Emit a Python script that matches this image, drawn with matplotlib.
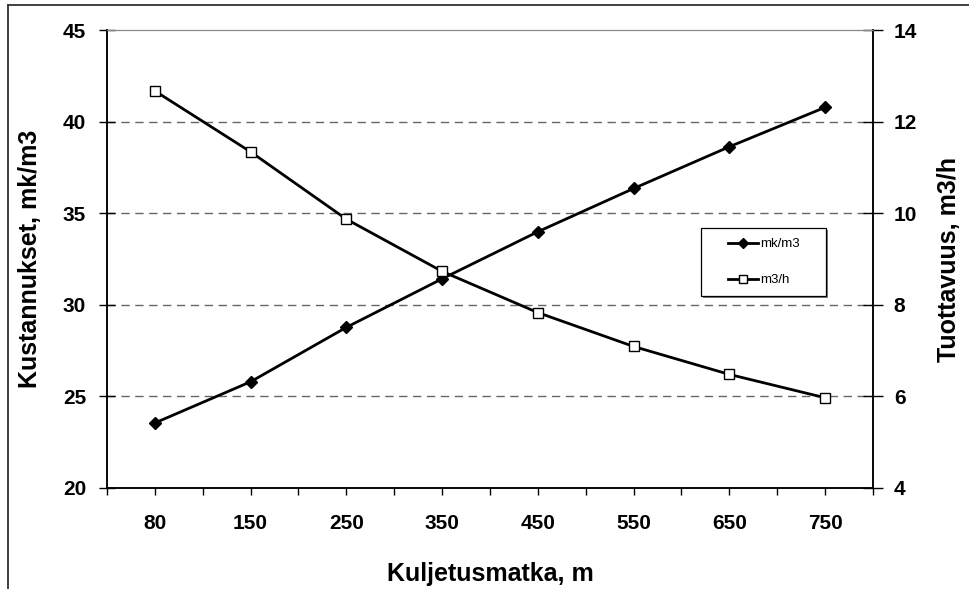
import matplotlib.pyplot as plt
import numpy as np
from matplotlib.patches import Rectangle
from matplotlib.lines import Line2D
import matplotlib.transforms as mtransforms

plt.rcParams['font.family'] = ['Liberation Sans', 'DejaVu Sans']

# kuljetusmatka (m), kustannukset (mk/m3) ja tuottavuus (m3/h)
matka = ['80', '150', '250', '350', '450', '550', '650', '750']
kustannus = [23.55, 25.8, 28.77, 31.42, 33.99, 36.35, 38.63, 40.78]
tuottavuus = [12.67, 11.34, 9.87, 8.73, 7.83, 7.09, 6.48, 5.97]

fig = plt.figure(figsize=(9.7, 5.89), dpi=100)
ax = fig.add_axes([0.1103, 0.1715, 0.7897, 0.7775])
ax2 = ax.twinx()

x = np.arange(len(matka))

ax.plot(x, kustannus, color='black', lw=2, marker='D', ms=6,
        mfc='black', mec='black', label='mk/m3', zorder=3)
ax2.plot(x, tuottavuus, color='black', lw=2, marker='s', ms=7.5,
         mfc='white', mec='black', mew=1, label='m3/h', zorder=3)

ax.set_xlim(-0.5, len(matka) - 0.5)
ax.set_ylim(20, 45)
ax2.set_ylim(4, 14)
ax.set_yticks(np.arange(20, 46, 5))
ax2.set_yticks(np.arange(4, 15, 2))

# luokka-akseli: nimiöt keskellä, väliviivat myös luokkien välissä
ax.set_xticks(x)
ax.set_xticklabels(matka)
ax.set_xticks(np.arange(-0.5, len(matka), 1.0), minor=True)
ax.tick_params(axis='x', which='both', direction='out', length=5, width=1,
               pad=14, labelsize=15)
ax.tick_params(axis='y', direction='inout', length=12, width=1, pad=9,
               labelsize=15)
ax2.tick_params(axis='y', direction='inout', length=14, width=1, pad=8,
                labelsize=15)
for lab in ax.get_xticklabels() + ax.get_yticklabels() + ax2.get_yticklabels():
    lab.set_fontweight('bold')

# vaakasuorat katkoviivat
for v in [25, 30, 35, 40]:
    ax.axhline(v, color='#666666', lw=1, ls=(0, (6, 4)), zorder=1)

for a in (ax, ax2):
    a.spines['top'].set_color('#888888')
    a.spines['top'].set_linewidth(0.8)
    a.spines['left'].set_linewidth(1.1)
    a.spines['right'].set_linewidth(1.1)
    a.spines['bottom'].set_linewidth(1.1)

ax.set_xlabel('Kuljetusmatka, m', fontsize=18, fontweight='bold')
ax.xaxis.set_label_coords(0.5, -0.1616)
ax.set_ylabel('Kustannukset, mk/m3', fontsize=18, fontweight='bold')
ax.yaxis.set_label_coords(-0.0849, 0.5)
ax2.set_ylabel('Tuottavuus, m3/h', fontsize=18, fontweight='bold')
ax2.yaxis.set_label_coords(1.0836, 0.5)

# selitelaatikko varjoineen
bx, by, bw, bh = 0.776, 0.419, 0.163, 0.148
shadow_tr = mtransforms.offset_copy(ax2.transAxes, fig=fig, x=1.5, y=-1.5,
                                    units='points')
ax2.add_patch(Rectangle((bx, by), bw, bh, transform=shadow_tr,
                        facecolor='#808080', edgecolor='none', zorder=4))
ax2.add_patch(Rectangle((bx, by), bw, bh, transform=ax2.transAxes,
                        facecolor='white', edgecolor='black', lw=0.9,
                        zorder=5))
h1, l1 = ax.get_legend_handles_labels()
h2, l2 = ax2.get_legend_handles_labels()
leg = ax2.legend(h1 + h2, l1 + l2, loc='center',
                 bbox_to_anchor=(bx + bw / 2, by + bh / 2), frameon=False,
                 fontsize=9.5, handlelength=2.3, handletextpad=0.15,
                 labelspacing=1.8, markerscale=0.85)
leg.set_zorder(6)

# kuvan ulkokehys
fig.add_artist(Line2D([8 / 970, 8 / 970], [0, 1 - 5 / 589],
                      transform=fig.transFigure, color='#333333', lw=1.3))
fig.add_artist(Line2D([8 / 970, 1], [1 - 5 / 589, 1 - 5 / 589],
                      transform=fig.transFigure, color='#333333', lw=1.3))

fig.savefig('out.png', dpi=100)
